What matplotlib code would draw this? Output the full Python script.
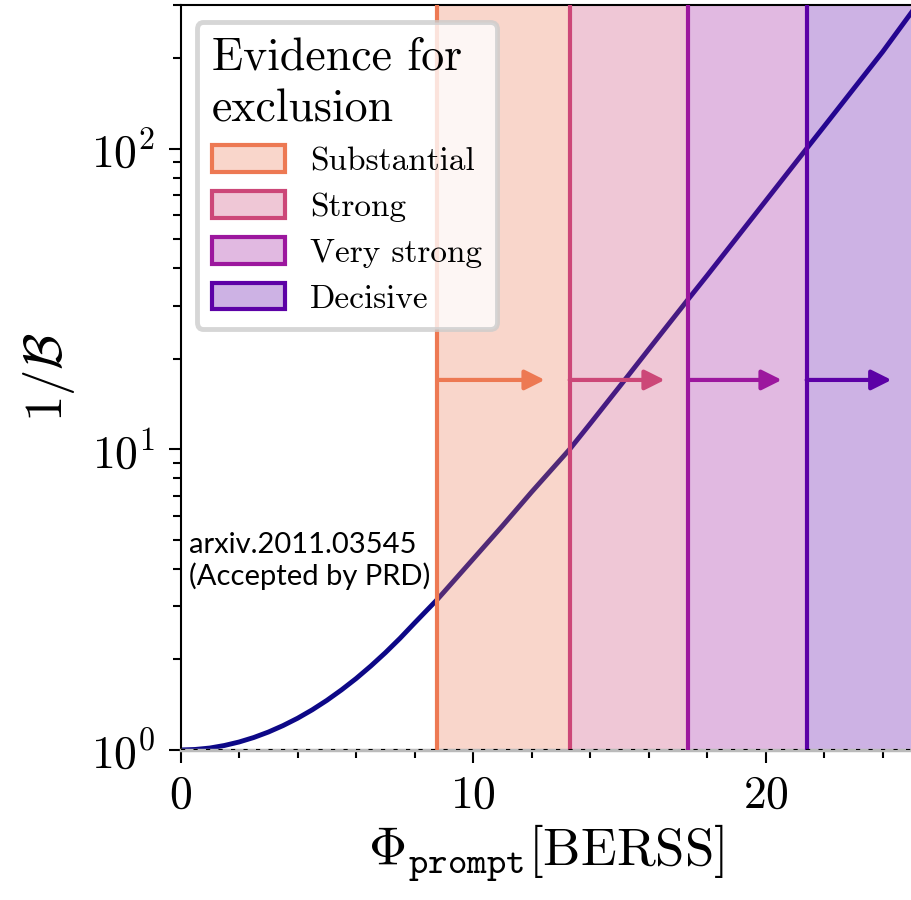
import matplotlib
matplotlib.use('Agg')
import matplotlib.pyplot as plt
from matplotlib.patches import Patch
import numpy as np

plt.rcParams['font.family'] = 'serif'
plt.rcParams['font.serif'] = ['cmr10']
plt.rcParams['mathtext.fontset'] = 'cm'
plt.rcParams['axes.formatter.use_mathtext'] = True

# curve: 1/B vs Phi_prompt
phi = [0, 0.5, 1, 1.5, 2, 2.5, 3, 3.5, 4, 4.5, 5, 5.5, 6, 6.5, 7, 7.5, 8,
       8.77, 9, 10, 11, 12, 13.3, 14, 15, 16, 17.36, 18, 19, 20, 21.4,
       22, 23, 24, 25]
inv_b = [1.0, 1.004, 1.015, 1.035, 1.063, 1.100, 1.147, 1.205, 1.275, 1.36,
         1.462, 1.584, 1.728, 1.901, 2.106, 2.351, 2.645, 3.162, 3.35, 4.315,
         5.559, 7.211, 10.0, 12.16, 16.14, 21.48, 31.62, 37.84, 50.35, 66.99,
         100.0, 118.6, 157.8, 209.9, 285.0]

# evidence thresholds
levels = ['Substantial', 'Strong', 'Very strong', 'Decisive']
thresholds = [8.77, 13.3, 17.36, 21.4]
arrow_ends = [12.45, 16.55, 20.55, 24.3]
colors = ['#ed7953', '#cc4778', '#9c179e', '#5c01a6']
arrow_y = 17
xmax = 25

fig = plt.figure(figsize=(9.12, 9.0), dpi=100)
ax = fig.add_axes([0.198, 0.1667, 0.802, 0.8277])

ax.plot(phi, inv_b, color='#0d0887', lw=3.5, zorder=1)

edges = thresholds + [xmax]
handles = []
for i, (lab, c) in enumerate(zip(levels, colors)):
    ax.axvspan(edges[i], edges[i + 1], color=c, alpha=0.3, lw=0, zorder=2)
    ax.axvline(edges[i], color=c, lw=3, zorder=3)
    ax.annotate('', xy=(arrow_ends[i], arrow_y), xytext=(edges[i], arrow_y),
                arrowprops=dict(arrowstyle='-|>', color=c, lw=3,
                                mutation_scale=30, shrinkA=0, shrinkB=0),
                zorder=4)
    handles.append(Patch(facecolor=matplotlib.colors.to_rgba(c, 0.3),
                         edgecolor=c, lw=3, label=lab))

ax.axhline(1, color='k', ls=(0, (2, 4)), lw=1.5, zorder=5)

ax.set_yscale('log')
ax.set_xlim(0, xmax)
ax.set_ylim(1, 300)
ax.set_xticks([0, 10, 20])
ax.set_xticks(np.arange(0, 26, 2), minor=True)

ax.tick_params(which='major', direction='out', length=9, width=1.5,
               labelsize=33, pad=9)
ax.tick_params(which='minor', direction='out', length=6, width=1.5)
for s in ['left', 'top']:
    ax.spines[s].set_linewidth(1.5)
ax.spines['right'].set_visible(False)
ax.spines['bottom'].set_color('#bbbbbb')
ax.spines['bottom'].set_linewidth(2.5)

ax.set_xlabel(r'$\Phi_{\mathtt{prompt}}[\mathrm{BERSS}]$', fontsize=38, labelpad=4)
ax.set_ylabel(r'$1/\mathcal{B}$', fontsize=38, labelpad=10)

ax.text(0.3, 5.3, 'arxiv.2011.03545\n(Accepted by PRD)', fontsize=21,
        family='Lato', ha='left', va='top', linespacing=1.2, zorder=6)

leg = ax.legend(handles=handles, title='Evidence for\nexclusion', loc='upper left',
                fontsize=24, title_fontsize=33, framealpha=0.8,
                edgecolor='#cccccc', fancybox=True, handlelength=2.2,
                handleheight=0.85, handletextpad=0.75, borderpad=0.45,
                labelspacing=0.45, borderaxespad=0,
                bbox_to_anchor=(0.022, 0.977))
leg._legend_box.align = 'left'
leg.get_title().set_linespacing(1.3)
leg.get_frame().set_linewidth(3.5)
leg.set_zorder(10)

fig.savefig('out.png', dpi=100)
